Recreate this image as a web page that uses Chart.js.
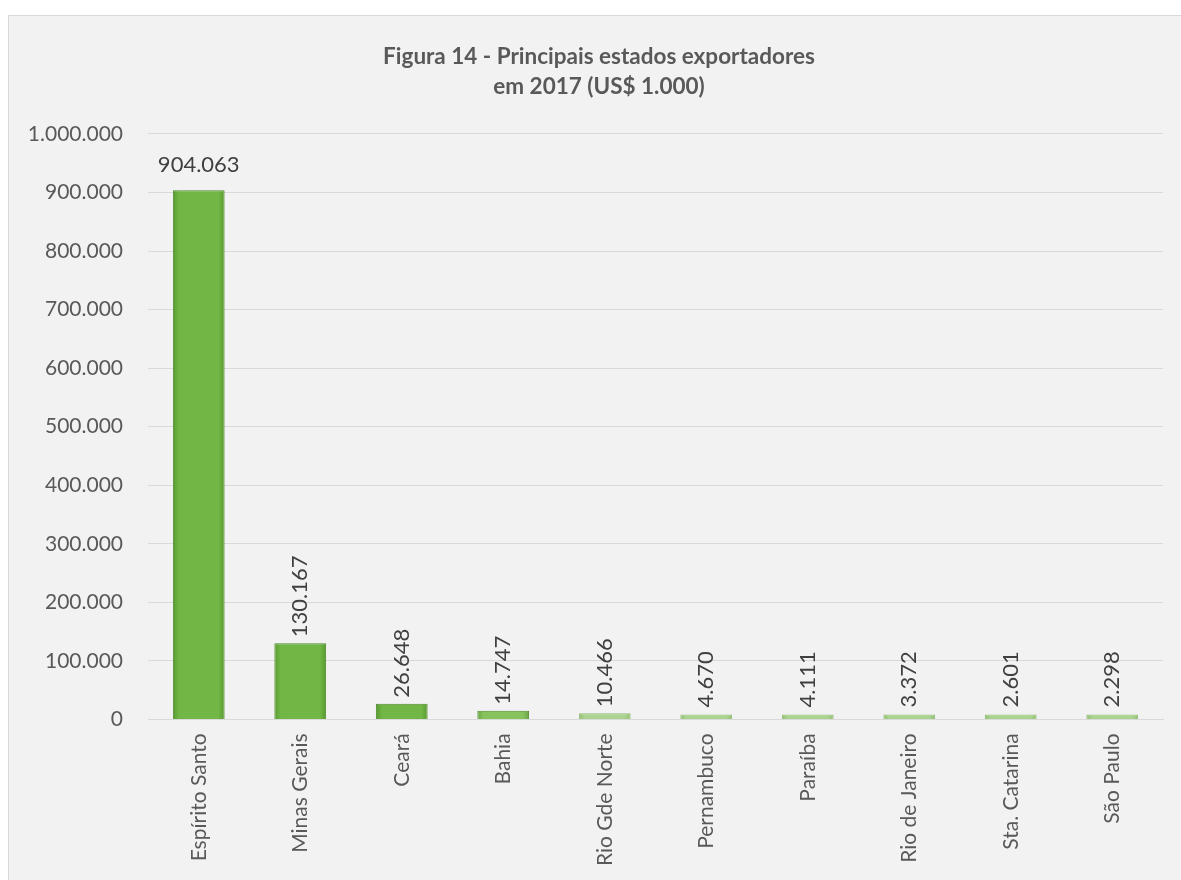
<!DOCTYPE html>
<html><head><meta charset="utf-8">
<script src="https://cdn.jsdelivr.net/npm/chart.js@4/dist/chart.umd.min.js"></script>
<style>html,body{margin:0;padding:0;background:#fff;}#wrap{width:1181px;height:880px;position:relative;}</style>
</head><body><div id="wrap"><canvas id="c" width="1181" height="880"></canvas></div>
<script>
const titleLines = ['Figura 14 - Principais estados exportadores', 'em 2017 (US$ 1.000)'];
const states = ['Espírito Santo','Minas Gerais','Ceará','Bahia','Rio Gde Norte','Pernambuco','Paraíba','Rio de Janeiro','Sta. Catarina','São Paulo'];
const exports2017 = [904063, 130167, 26648, 14747, 10466, 4670, 4111, 3372, 2601, 2298];
const yTicks = [0, 100000, 200000, 300000, 400000, 500000, 600000, 700000, 800000, 900000, 1000000];

const fmt = v => String(Math.round(v)).replace(/\B(?=(\d{3})+(?!\d))/g, '.');
const FONT = 'Lato, "Open Sans", sans-serif';

const bgPlugin = {
  id: 'bg',
  afterLayout(chart) {
    // centre the title a little to the right, as in the source figure
    if (chart.titleBlock) chart.titleBlock.left = 35;
  },
  beforeDraw(chart) {
    const c = chart.ctx;
    c.save();
    c.fillStyle = '#ffffff';
    c.fillRect(0, 0, chart.width, chart.height);
    c.fillStyle = '#f2f2f2';
    c.fillRect(8, 15, chart.width - 8, chart.height - 15);
    c.strokeStyle = '#d9d9d9';
    c.lineWidth = 1;
    c.strokeRect(8.5, 15.5, chart.width - 8, chart.height - 15);
    c.restore();
  }
};

const labelPlugin = {
  id: 'vals',
  afterDatasetsDraw(chart) {
    const c = chart.ctx;
    const meta = chart.getDatasetMeta(0);
    c.save();
    c.fillStyle = '#404040';
    c.font = '22px ' + FONT;
    meta.data.forEach((el, i) => {
      const txt = fmt(exports2017[i]);
      if (i === 0) {
        c.textAlign = 'center';
        c.textBaseline = 'middle';
        c.fillText(txt, el.x, el.y - 25);
      } else {
        c.save();
        c.translate(el.x, Math.min(el.y, chart.scales.y.getPixelForValue(0) - 6) - 6);
        c.rotate(-Math.PI / 2);
        c.textAlign = 'left';
        c.textBaseline = 'middle';
        c.fillText(txt, 0, 0);
        c.restore();
      }
    });
    c.restore();
  }
};

function barFill(ctx) {
  const chart = ctx.chart;
  const i = ctx.dataIndex;
  const light = i >= 4;
  const edge = light ? '#93c073' : (i === 3 ? '#6aa544' : '#589a30');
  const mid = light ? '#acd491' : (i === 3 ? '#86c35c' : '#72b646');
  if (!chart.chartArea) return mid;
  const xs = chart.scales.x;
  const cx = xs.getPixelForValue(i);
  const half = xs.width / states.length * 0.51 / 2;
  const g = chart.ctx.createLinearGradient(cx - half, 0, cx + half, 0);
  g.addColorStop(0, edge);
  g.addColorStop(0.12, mid);
  g.addColorStop(0.88, mid);
  g.addColorStop(1, edge);
  return g;
}

new Chart(document.getElementById('c'), {
  type: 'bar',
  data: {
    labels: states,
    datasets: [{
      data: exports2017,
      backgroundColor: barFill,
      borderColor: ctx => ctx.dataIndex >= 4 ? '#8fbb72' : '#4f8a2b',
      borderWidth: 1,
      barPercentage: 0.51,
      categoryPercentage: 1,
      minBarLength: 5
    }]
  },
  options: {
    responsive: false,
    animation: false,
    devicePixelRatio: 1,
    layout: { padding: { left: 8, right: 18, top: 0, bottom: 0 } },
    plugins: {
      legend: { display: false },
      tooltip: { enabled: false },
      title: {
        display: true,
        text: titleLines,
        color: '#595959',
        font: { family: FONT, size: 22.5, weight: 'bold', lineHeight: 1.333 },
        padding: { top: 42, bottom: 32 }
      }
    },
    scales: {
      x: {
        grid: { display: false, drawTicks: false },
        border: { display: true, color: '#d9d9d9', width: 1 },
        ticks: {
          color: '#595959',
          font: { family: FONT, size: 21 },
          minRotation: 90, maxRotation: 90,
          padding: 14,
          autoSkip: false
        }
      },
      y: {
        min: 0, max: 1000000,
        afterBuildTicks: axis => { axis.ticks = yTicks.map(v => ({ value: v })); },
        afterFit: axis => { axis.width = 140; },
        grid: { color: '#d9d9d9', drawTicks: false },
        border: { display: false },
        ticks: {
          color: '#595959',
          font: { family: FONT, size: 21 },
          padding: 25,
          callback: v => fmt(v)
        }
      }
    }
  },
  plugins: [bgPlugin, labelPlugin]
});
</script></body></html>
